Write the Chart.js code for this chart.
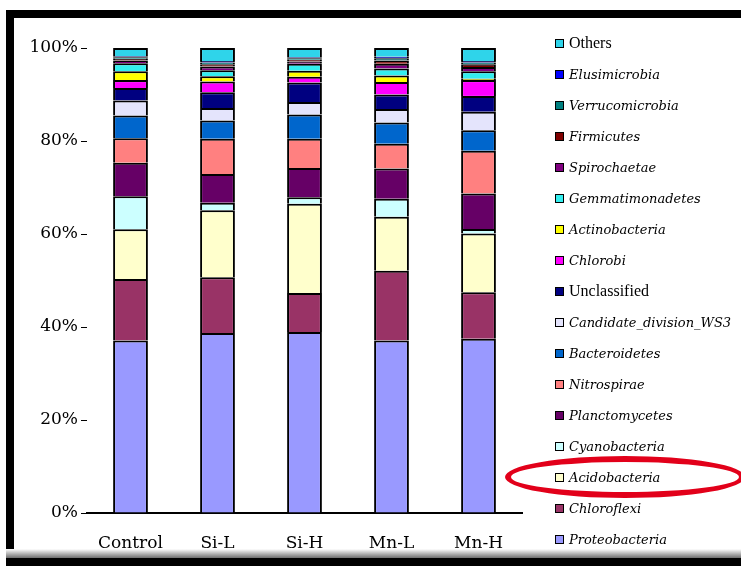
<!DOCTYPE html>
<html>
<head>
<meta charset="utf-8">
<script src="https://cdn.jsdelivr.net/npm/chart.js@4.4.1/dist/chart.umd.min.js"></script>
<style>
  html, body { margin: 0; padding: 0; background: #fff; }
  #wrap { position: relative; width: 741px; height: 566px; overflow: hidden; background: #fff; }
  #chart { position: absolute; left: 0; top: 0; }
  .frame-top { position: absolute; left: 6px; top: 10px; width: 735px; height: 8px; background: #000; }
  .frame-left { position: absolute; left: 6px; top: 10px; width: 8px; height: 556px; background: #000; }
  .frame-shade { position: absolute; left: 6px; top: 549px; width: 735px; height: 9px; background: linear-gradient(#ffffff, #6e6e6e); }
  .frame-bottom { position: absolute; left: 6px; top: 558px; width: 735px; height: 8px; background: #000; }
  .item { position: absolute; left: 555px; height: 20px; display: flex; align-items: center; white-space: nowrap; color: #000; }
  .sw { width: 9px; height: 9px; border: 1px solid #000; box-sizing: border-box; margin-right: 5px; flex: none; }
  .it { font-family: "DejaVu Serif", serif; font-style: italic; font-size: 13px; }
  .rm { font-family: "Liberation Serif", serif; font-size: 16px; }
  .ring { position: absolute; left: 505px; top: 456px; width: 240px; height: 42px; border: 6px solid #e2001a; border-radius: 50%; box-sizing: border-box; }
</style>
</head>
<body>
<div id="wrap">
  <canvas id="chart" width="741" height="566"></canvas>
  <div id="legend"></div>
  <div class="ring"></div>
  <div class="frame-top"></div>
  <div class="frame-left"></div>
  <div class="frame-shade"></div>
  <div class="frame-bottom"></div>
</div>
<script>
// Treatments on the x axis
const categories = ['Control', 'Si-L', 'Si-H', 'Mn-L', 'Mn-H'];

// Relative abundance (%) of each phylum, stacked bottom to top
const proteobacteria   = [37.1, 38.7, 38.9, 37.1, 37.5];
const chloroflexi      = [13.2, 12.0,  8.4, 15.0, 10.0];
const acidobacteria    = [10.7, 14.4, 19.2, 11.6, 12.6];
const cyanobacteria    = [ 7.1,  1.6,  1.4,  3.9,  1.0];
const planctomycetes   = [ 7.2,  6.2,  6.3,  6.5,  7.6];
const nitrospirae      = [ 5.3,  7.6,  6.3,  5.3,  9.2];
const bacteroidetes    = [ 4.9,  3.9,  5.2,  4.6,  4.4];
const candidateWS3     = [ 3.2,  2.7,  2.7,  2.9,  4.0];
const unclassified     = [ 2.7,  3.4,  4.2,  3.1,  3.4];
const chlorobi         = [ 1.7,  2.3,  1.2,  2.7,  3.4];
const actinobacteria   = [ 1.9,  1.1,  1.3,  1.4,  0.3];
const gemmatimonadetes = [ 1.7,  1.3,  1.5,  1.5,  1.6];
const spirochaetae     = [ 0.6,  0.8,  0.5,  1.0,  0.9];
const firmicutes       = [ 0.4,  0.5,  0.4,  0.7,  0.6];
const verrucomicrobia  = [ 0.3,  0.4,  0.3,  0.5,  0.4];
const elusimicrobia    = [ 0.2,  0.3,  0.2,  0.3,  0.3];
const others           = [ 1.8,  2.8,  2.0,  1.9,  2.8];

// Y axis tick values
const yTicks = [0, 20, 40, 60, 80, 100];

// Series: [name, values, fill colour, italic name]
const series = [
  ['Proteobacteria',        proteobacteria,   '#9999ff', true],
  ['Chloroflexi',           chloroflexi,      '#993366', true],
  ['Acidobacteria',         acidobacteria,    '#ffffcc', true],
  ['Cyanobacteria',         cyanobacteria,    '#ccffff', true],
  ['Planctomycetes',        planctomycetes,   '#660066', true],
  ['Nitrospirae',           nitrospirae,      '#ff8080', true],
  ['Bacteroidetes',         bacteroidetes,    '#0066cc', true],
  ['Candidate_division_WS3',candidateWS3,     '#e4e4fc', true],
  ['Unclassified',          unclassified,     '#000080', false],
  ['Chlorobi',              chlorobi,         '#ff00ff', true],
  ['Actinobacteria',        actinobacteria,   '#ffff00', true],
  ['Gemmatimonadetes',      gemmatimonadetes, '#33eeee', true],
  ['Spirochaetae',          spirochaetae,     '#800080', true],
  ['Firmicutes',            firmicutes,       '#800000', true],
  ['Verrucomicrobia',       verrucomicrobia,  '#008080', true],
  ['Elusimicrobia',         elusimicrobia,    '#0000ff', true],
  ['Others',                others,           '#2fd4ea', false]
];

const datasets = series.map(([name, values, color]) => ({
  label: name,
  data: values,
  backgroundColor: color,
  borderColor: '#000',
  borderWidth: 2,
  borderSkipped: 'start',
  categoryPercentage: 1.0,
  barPercentage: 0.4
}));

// Legend on the right, top entry = top of the stack
const legend = document.getElementById('legend');
series.slice().reverse().forEach(([name, , color, italic], i) => {
  const row = document.createElement('div');
  row.className = 'item';
  row.style.top = (33 + i * 31.06) + 'px';
  const sw = document.createElement('span');
  sw.className = 'sw';
  sw.style.background = color;
  const tx = document.createElement('span');
  tx.className = italic ? 'it' : 'rm';
  tx.textContent = name;
  row.appendChild(sw);
  row.appendChild(tx);
  legend.appendChild(row);
});

const tickFont = { family: '"DejaVu Serif", serif', size: 17 };

new Chart(document.getElementById('chart'), {
  type: 'bar',
  data: { labels: categories, datasets },
  options: {
    responsive: false,
    animation: false,
    layout: { padding: { left: 0, top: 48, right: 219, bottom: 3 } },
    plugins: { legend: { display: false }, tooltip: { enabled: false } },
    scales: {
      x: {
        stacked: true,
        grid: { display: false, drawTicks: false },
        border: { display: true, color: '#000', width: 2 },
        ticks: { color: '#000', font: tickFont, padding: 20 },
        afterFit: s => { s.height = 50; }
      },
      y: {
        stacked: true,
        min: 0,
        max: 100,
        afterBuildTicks: s => { s.ticks = yTicks.map(v => ({ value: v })); },
        grid: { drawOnChartArea: false, drawTicks: true, tickLength: 6, color: '#000' },
        border: { display: false },
        ticks: { color: '#000', font: tickFont, padding: 3, callback: v => v + '%' },
        afterFit: s => { s.width = 87; }
      }
    }
  }
});
</script>
</body>
</html>
